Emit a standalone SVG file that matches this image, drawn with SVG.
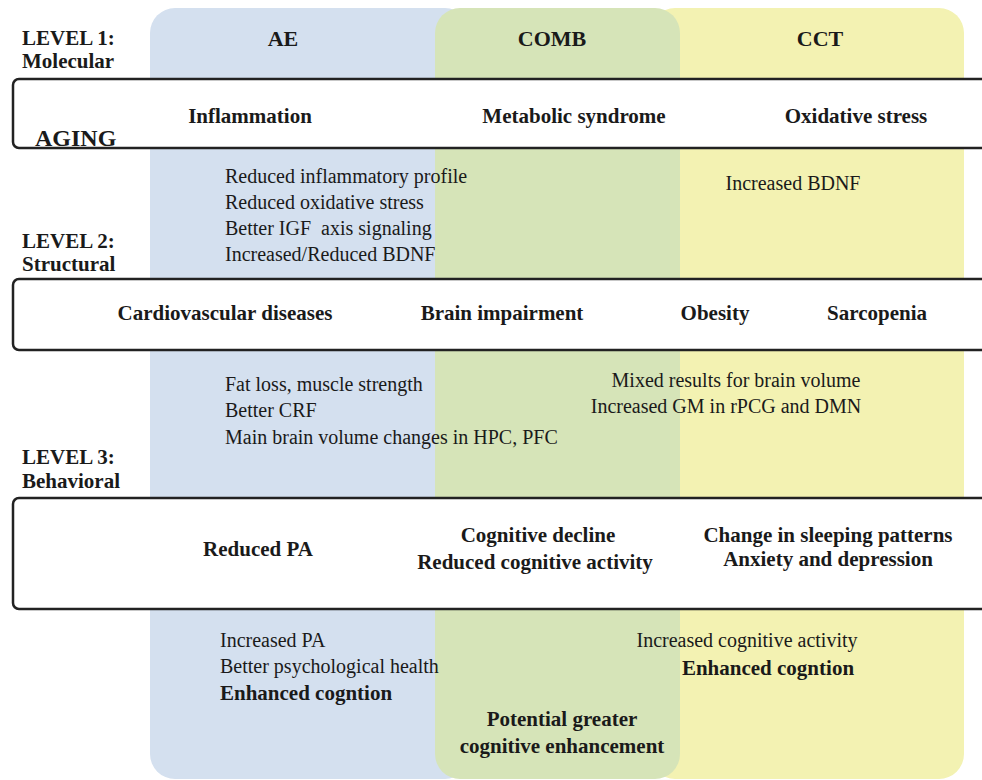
<svg xmlns="http://www.w3.org/2000/svg" width="982" height="780" viewBox="0 0 982 780">
<style>
text{font-family:"Liberation Serif","Times New Roman",serif;fill:#1a1a1a}
.b{font-weight:bold;font-size:21px}
.r{font-size:20px}
.t{font-weight:bold;font-size:22px}
.lv{font-weight:bold;font-size:21px}
.m{text-anchor:middle}
.box{fill:#ffffff;stroke:#222;stroke-width:2.5}
</style>
<rect width="982" height="780" fill="#ffffff"/>
<g id="columns">
<rect id="col-ae" x="150" y="8" width="320" height="771" rx="25" fill="#d4e0ef"/>
<rect id="col-cct" x="650" y="8" width="314" height="771" rx="25" fill="#f3f2b2"/>
<rect id="col-comb" x="435" y="8" width="245" height="771" rx="25" fill="#d6e4b8"/>
</g>
<g id="headers">
<text class="t m" x="283" y="46">AE</text>
<text class="t m" x="552" y="46">COMB</text>
<text class="t m" x="820" y="46">CCT</text>
</g>
<g id="level1">
<text class="lv" x="22" y="45">LEVEL 1:</text>
<text class="lv" x="22" y="68">Molecular</text>
</g>
<g id="band1">
<rect class="box" x="13" y="79" width="990" height="69" rx="6"/>
<text class="b m" x="250" y="123">Inflammation</text>
<text class="b m" x="574" y="123">Metabolic syndrome</text>
<text class="b m" x="856" y="123">Oxidative stress</text>
<text style="font-weight:bold;font-size:24px" x="35" y="146">AGING</text>
</g>
<g id="ae-effects-1">
<text class="r" x="225" y="183">Reduced inflammatory profile</text>
<text class="r" x="225" y="209">Reduced oxidative stress</text>
<text class="r" x="225" y="235" xml:space="preserve">Better IGF  axis signaling</text>
<text class="r" x="225" y="261">Increased/Reduced BDNF</text>
</g>
<g id="cct-effects-1">
<text class="r m" x="793" y="190">Increased BDNF</text>
</g>
<g id="level2">
<text class="lv" x="22" y="248">LEVEL 2:</text>
<text class="lv" x="22" y="271">Structural</text>
</g>
<g id="band2">
<rect class="box" x="13" y="279" width="990" height="71" rx="6"/>
<text class="b m" x="225" y="320">Cardiovascular diseases</text>
<text class="b m" x="502" y="320">Brain impairment</text>
<text class="b m" x="715" y="320">Obesity</text>
<text class="b m" x="877" y="320">Sarcopenia</text>
</g>
<g id="ae-effects-2">
<text class="r" x="225" y="391">Fat loss, muscle strength</text>
<text class="r" x="225" y="417">Better CRF</text>
<text class="r" x="225" y="444">Main brain volume changes in HPC, PFC</text>
</g>
<g id="cct-effects-2">
<text class="r m" x="736" y="387">Mixed results for brain volume</text>
<text class="r m" x="726" y="413">Increased GM in rPCG and DMN</text>
</g>
<g id="level3">
<text class="lv" x="22" y="464">LEVEL 3:</text>
<text class="lv" x="22" y="488">Behavioral</text>
</g>
<g id="band3">
<rect class="box" x="13" y="498" width="990" height="111" rx="6"/>
<text class="b m" x="258" y="556">Reduced PA</text>
<text class="b m" x="538" y="542">Cognitive decline</text>
<text class="b m" x="535" y="569">Reduced cognitive activity</text>
<text class="b m" x="828" y="542">Change in sleeping patterns</text>
<text class="b m" x="828" y="566">Anxiety and depression</text>
</g>
<g id="ae-effects-3">
<text class="r" x="220" y="647">Increased PA</text>
<text class="r" x="220" y="673">Better psychological health</text>
<text class="b" x="220" y="700">Enhanced cogntion</text>
</g>
<g id="cct-effects-3">
<text class="r m" x="747" y="647">Increased cognitive activity</text>
<text class="b m" x="768" y="675">Enhanced cogntion</text>
</g>
<g id="comb-effects-3">
<text class="b m" x="562" y="726">Potential greater</text>
<text class="b m" x="562" y="753">cognitive enhancement</text>
</g>
<g id="connectors"></g>
</svg>
